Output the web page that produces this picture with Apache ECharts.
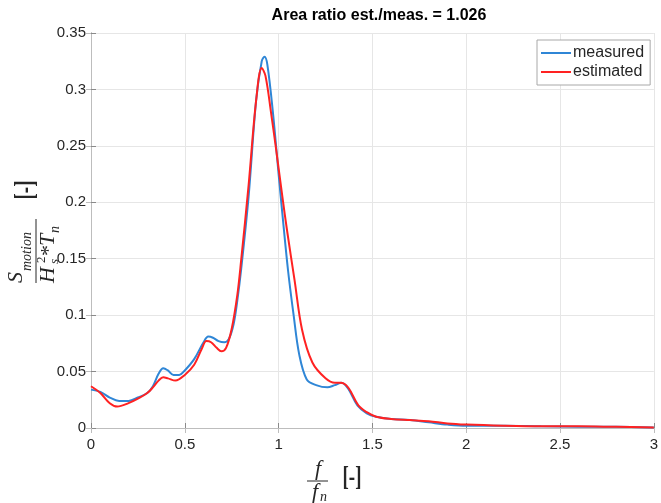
<!DOCTYPE html>
<html>
<head>
<meta charset="utf-8">
<script src="https://cdn.jsdelivr.net/npm/echarts@6/dist/echarts.min.js"></script>
<style>
  html, body { margin: 0; padding: 0; background: #fff; }
  #chart { width: 661px; height: 503px; }
</style>
</head>
<body>
<div id="chart"></div>
<script>
// values
const measuredX = [0, 0.05, 0.1, 0.15, 0.2, 0.25, 0.3, 0.33, 0.36, 0.385, 0.41, 0.44, 0.47, 0.5, 0.55, 0.6, 0.625, 0.65, 0.68, 0.71, 0.735, 0.76, 0.78, 0.8, 0.84, 0.88, 0.91, 0.925, 0.94, 0.97, 1.0, 1.02, 1.05, 1.08, 1.11, 1.15, 1.2, 1.26, 1.3, 1.335, 1.37, 1.42, 1.47, 1.52, 1.6, 1.7, 1.8, 1.9, 2.0, 2.2, 2.4, 2.6, 2.8, 3.0];
const measuredY = [0.034, 0.032, 0.027, 0.024, 0.024, 0.027, 0.031, 0.037, 0.048, 0.053, 0.051, 0.047, 0.047, 0.051, 0.061, 0.076, 0.081, 0.080, 0.077, 0.076, 0.079, 0.092, 0.113, 0.140, 0.205, 0.290, 0.325, 0.329, 0.322, 0.279, 0.225, 0.19, 0.14, 0.10, 0.065, 0.043, 0.038, 0.036, 0.038, 0.040, 0.035, 0.020, 0.013, 0.010, 0.008, 0.007, 0.005, 0.003, 0.002, 0.002, 0.0015, 0.0012, 0.001, 0.0005];

const estimatedX = [0, 0.05, 0.1, 0.14, 0.2, 0.25, 0.3, 0.33, 0.36, 0.385, 0.41, 0.45, 0.5, 0.55, 0.59, 0.615, 0.64, 0.67, 0.695, 0.72, 0.75, 0.78, 0.8, 0.84, 0.88, 0.91, 0.93, 0.96, 0.985, 1.02, 1.045, 1.085, 1.125, 1.18, 1.25, 1.3, 1.33, 1.37, 1.425, 1.47, 1.52, 1.6, 1.7, 1.8, 1.9, 2.0, 2.2, 2.4, 2.6, 2.8, 3.0];
const estimatedY = [0.037, 0.031, 0.022, 0.019, 0.022, 0.026, 0.031, 0.036, 0.042, 0.045, 0.044, 0.042, 0.047, 0.056, 0.070, 0.077, 0.076, 0.071, 0.068, 0.071, 0.088, 0.118, 0.148, 0.215, 0.290, 0.319, 0.312, 0.279, 0.249, 0.205, 0.175, 0.131, 0.087, 0.058, 0.044, 0.040, 0.040, 0.036, 0.020, 0.014, 0.010, 0.008, 0.007, 0.006, 0.004, 0.003, 0.002, 0.0015, 0.0015, 0.001, 0.0005];

const seriesNames = ["measured", "estimated"];
const titleText = "Area ratio est./meas. = 1.026";

const chart = echarts.init(document.getElementById("chart"));

const toPairs = (xs, ys) => xs.map((x, i) => [x, ys[i]]);

const axisColor = "#8a8a8a";
const textColor = "#262626";
const serif = '"Liberation Serif", "DejaVu Serif", serif';

const tickStyle = { inside: true, length: 5, lineStyle: { color: axisColor } };

// "[-]" unit, drawn narrow and tall like the LaTeX brackets in the original
const unitText = (x, y) => ({
  type: "text", x: x, y: y, scaleX: 0.7,
  style: { text: "[-]", font: "bold 27px " + serif, fill: textColor, align: "center", verticalAlign: "middle" }
});

const option = {
  animation: false,
  backgroundColor: "#fff",
  title: {
    text: titleText,
    left: 374,
    top: 3,
    textAlign: "center",
    textStyle: { fontFamily: "Liberation Sans", fontSize: 16, fontWeight: "bold", color: "#000" }
  },
  grid: { left: 91, right: 4, top: 33, bottom: 75 },
  legend: {
    orient: "vertical",
    left: 537,
    top: 40,
    padding: [5, 6, 5, 4],
    itemGap: 3,
    itemWidth: 30,
    itemHeight: 2,
    icon: "rect",
    backgroundColor: "#fff",
    borderColor: "#a8a8a8",
    borderWidth: 1,
    textStyle: { fontFamily: "Liberation Sans", fontSize: 16, color: textColor, padding: [0, 0, 0, -3] },
    data: seriesNames
  },
  xAxis: [
    {
      type: "value", min: 0, max: 3, interval: 0.5,
      axisLine: { show: true, onZero: false, lineStyle: { color: axisColor } },
      axisTick: tickStyle,
      axisLabel: { fontFamily: "Liberation Sans", fontSize: 15, color: textColor, margin: 9 },
      splitLine: { show: true, lineStyle: { color: "#e6e6e6" } }
    },
    {
      type: "value", min: 0, max: 3, interval: 0.5, position: "top",
      axisLine: { show: true, lineStyle: { color: "#bdbdbd" } },
      axisTick: { inside: true, length: 5, lineStyle: { color: "#bdbdbd" } },
      axisLabel: { show: false },
      splitLine: { show: false }
    }
  ],
  yAxis: [
    {
      type: "value", min: 0, max: 0.35, interval: 0.05,
      axisLine: { show: true, onZero: false, lineStyle: { color: axisColor } },
      axisTick: tickStyle,
      axisLabel: { fontFamily: "Liberation Sans", fontSize: 15, color: textColor, margin: 5 },
      splitLine: { show: true, lineStyle: { color: "#e6e6e6" } }
    },
    {
      type: "value", min: 0, max: 0.35, interval: 0.05, position: "right",
      axisLine: { show: true, lineStyle: { color: "#bdbdbd" } },
      axisTick: { inside: true, length: 5, lineStyle: { color: "#bdbdbd" } },
      axisLabel: { show: false },
      splitLine: { show: false }
    }
  ],
  series: [
    {
      name: seriesNames[0],
      type: "line",
      data: toPairs(measuredX, measuredY),
      smooth: 0.35,
      showSymbol: false,
      itemStyle: { color: "#2f86d6" },
      lineStyle: { color: "#2f86d6", width: 2 }
    },
    {
      name: seriesNames[1],
      type: "line",
      data: toPairs(estimatedX, estimatedY),
      smooth: 0.35,
      showSymbol: false,
      itemStyle: { color: "#ff2222" },
      lineStyle: { color: "#ff2222", width: 2 }
    }
  ],
  graphic: [
    // y axis label: S_motion / (H_s^2 * T_n)  [-]
    {
      type: "group",
      x: 36, y: 250,
      rotation: Math.PI / 2,
      children: [
        { type: "text", x: -33, y: -9, style: { text: "S", font: "italic 22px " + serif, fill: textColor, verticalAlign: "bottom" } },
        { type: "text", x: -21, y: -2, style: { text: "motion", font: "italic 14px " + serif, fill: textColor, verticalAlign: "bottom" } },
        { type: "line", shape: { x1: -33, y1: 0, x2: 31, y2: 0 }, style: { stroke: textColor, lineWidth: 1 } },
        { type: "text", x: -33, y: 1, style: { text: "H", font: "italic 22px " + serif, fill: textColor, verticalAlign: "top" } },
        { type: "text", x: -13, y: -1, style: { text: "2", font: "13px " + serif, fill: textColor, verticalAlign: "top" } },
        { type: "text", x: -14, y: 12, style: { text: "s", font: "italic 13px " + serif, fill: textColor, verticalAlign: "top" } },
        { type: "text", x: -6, y: 2, style: { text: "*", font: "22px " + serif, fill: textColor, verticalAlign: "top" } },
        { type: "text", x: 4, y: 1, style: { text: "T", font: "italic 22px " + serif, fill: textColor, verticalAlign: "top" } },
        { type: "text", x: 17, y: 12, style: { text: "n", font: "italic 14px " + serif, fill: textColor, verticalAlign: "top" } },
        unitText(60, -10)
      ]
    },
    // x axis label: f / f_n  [-]
    {
      type: "group",
      x: 318, y: 481,
      children: [
        { type: "text", x: 0, y: -1, style: { text: "f", font: "italic 22px " + serif, fill: textColor, align: "center", verticalAlign: "bottom" } },
        { type: "line", shape: { x1: -11, y1: 0, x2: 10, y2: 0 }, style: { stroke: textColor, lineWidth: 1 } },
        { type: "text", x: -3, y: 0, style: { text: "f", font: "italic 22px " + serif, fill: textColor, align: "center", verticalAlign: "top" } },
        { type: "text", x: 2, y: 9, style: { text: "n", font: "italic 14px " + serif, fill: textColor, align: "left", verticalAlign: "top" } },
        unitText(34, -3)
      ]
    }
  ]
};

chart.setOption(option);
window.addEventListener("resize", () => chart.resize());
</script>
</body>
</html>
